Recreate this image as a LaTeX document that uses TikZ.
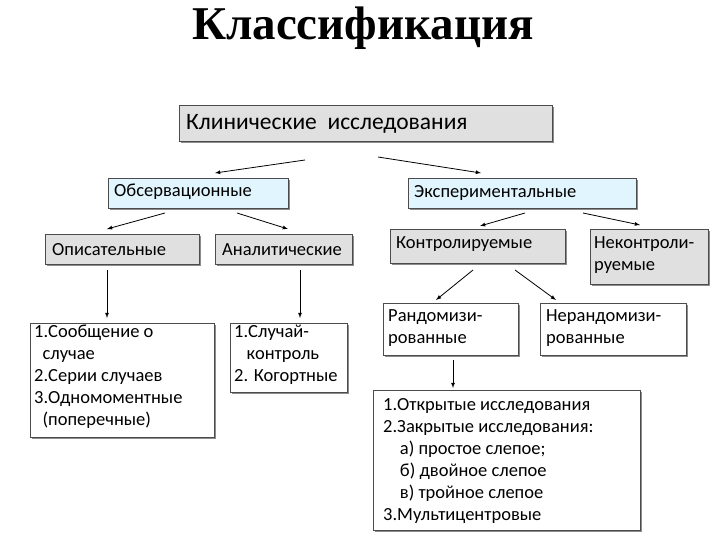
\documentclass[tikz,border=0pt]{standalone}
\usepackage{fontspec}
\setmainfont{Carlito}
\newfontfamily\titlefont{Liberation Serif}
\begin{document}
\begin{tikzpicture}[x=1pt,y=-1pt,
  box/.style={draw=black!70,line width=0.6pt,inner sep=0pt},
  gbox/.style={box,fill=black!12},
  cbox/.style={box,fill=cyan!12},
  wbox/.style={box,fill=white},
  txt/.style={inner sep=0pt,align=left,font=\fontsize{18.5}{22}\selectfont},
  arr/.style={-latex,line width=0.8pt}]
\useasboundingbox (0,0) rectangle (720,540);
\node[font=\titlefont\bfseries\fontsize{47}{50}\selectfont] (title) at (363,28) {Классификация};
\newcommand{\bx}[6]{% name style x1 y1 x2 y2
  \fill[black!45] (#3+2,#4+2) rectangle (#5+2,#6+2);
  \node[#2,minimum width=#5-#3,minimum height=#6-#4,anchor=north west] (#1) at (#3,#4) {};}
\bx{kl}{gbox}{179}{105}{552}{141}
\node[txt,anchor=west,font=\fontsize{23.5}{28}\selectfont] (klt) at (186,124) {Клинические \ исследования};
\bx{obs}{cbox}{108}{178}{288}{208}
\node[txt,anchor=west] (obst) at (114,192) {Обсервационные};
\bx{exp}{cbox}{408}{178}{636}{208}
\node[txt,anchor=west] (expt) at (414,193) {Экспериментальные};
\bx{op}{gbox}{45}{234}{199}{264}
\node[txt,anchor=west] (opt) at (52,250) {Описательные};
\bx{an}{gbox}{215}{234}{352}{264}
\node[txt,anchor=west] (ant) at (222,250) {Аналитические};
\bx{ko}{gbox}{390}{229}{565}{263}
\node[txt,anchor=west] (kot) at (396,244) {Контролируемые};
\bx{nk}{gbox}{590}{229}{708}{284}
\node[txt,anchor=north west] (nkt) at (594,236) {Неконтроли-\\руемые};
\bx{b1}{wbox}{30}{323}{214}{437}
\node[txt,anchor=north west] (b1t) at (34,325) {1.Сообщение о\\\ \ случае\\2.Серии случаев\\3.Одномоментные\\\ \ (поперечные)};
\bx{b2}{wbox}{230}{323}{347}{392}
\node[txt,anchor=north west] (b2t) at (234,325) {1.Случай-\\\ \ \ контроль\\2. Когортные};
\bx{rn}{wbox}{383}{303}{518}{355}
\node[txt,anchor=north west] (rnt) at (388,309) {Рандомизи-\\рованные};
\bx{nr}{wbox}{540}{303}{686}{355}
\node[txt,anchor=north west] (nrt) at (546,309) {Нерандомизи-\\рованные};
\bx{bt}{wbox}{373}{390}{640}{530}
\node[txt,anchor=north west] (btt) at (383,398) {1.Открытые исследования\\2.Закрытые исследования:\\\ \ \ \ а) простое слепое;\\\ \ \ \ б) двойное слепое\\\ \ \ \ в) тройное слепое\\3.Мультицентровые};
\coordinate (a1s) at (305,160); \coordinate (a1e) at (215,173);
\coordinate (a2s) at (378,157); \coordinate (a2e) at (481,173);
\coordinate (a3s) at (165,213); \coordinate (a3e) at (107,229);
\coordinate (a4s) at (237,213); \coordinate (a4e) at (288,229);
\coordinate (a5s) at (525,213); \coordinate (a5e) at (480,226);
\coordinate (a6s) at (583,213); \coordinate (a6e) at (640,225);
\coordinate (a7s) at (473,270); \coordinate (a7e) at (436,300);
\coordinate (a8s) at (515,270); \coordinate (a8e) at (556,300);
\coordinate (a9s) at (107,270); \coordinate (a9e) at (107,318);
\coordinate (a10s) at (300,270); \coordinate (a10e) at (300,318);
\coordinate (a11s) at (453,360); \coordinate (a11e) at (453,388);
\foreach \i in {1,...,11} \draw[arr] (a\i s) -- (a\i e);
\end{tikzpicture}
\end{document}
